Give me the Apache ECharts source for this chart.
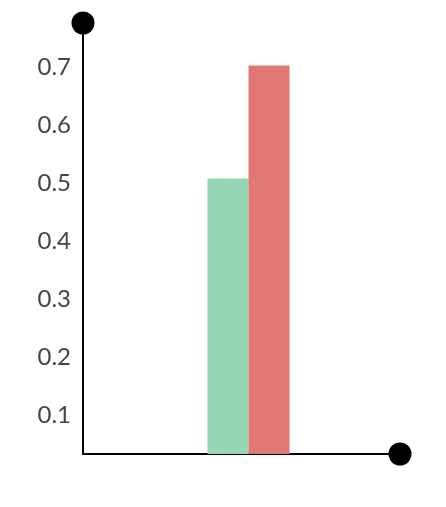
<!DOCTYPE html>
<html><head><meta charset="utf-8">
<script src="https://cdn.jsdelivr.net/npm/echarts@6/dist/echarts.min.js"></script>
<style>html,body{margin:0;padding:0;background:#fff}#c{width:446px;height:507px}</style>
</head><body><div id="c"></div>
<script>
var categories = [''];
var seriesNames = ['A', 'B'];
var valuesA = [0.508];
var valuesB = [0.703];
var yMin = 0.0337, yMax = 0.776;

var chart = echarts.init(document.getElementById('c'), null, {renderer: 'canvas'});
var lineStyle = {color: '#000', width: 2};
chart.setOption({
  animation: false,
  grid: [
    {left: 83, right: 46, top: 23, bottom: 53},
    {left: 97, right: 46, top: 23, bottom: 53}
  ],
  xAxis: [
    {gridIndex: 0, type: 'category', data: categories,
     axisLine: {show: true, lineStyle: lineStyle, symbol: ['none', 'circle'], symbolSize: [23, 23]},
     axisTick: {show: false}, axisLabel: {show: false}, splitLine: {show: false}},
    {gridIndex: 1, type: 'category', data: categories, show: false}
  ],
  yAxis: [
    {gridIndex: 0, type: 'value', min: yMin, max: yMax, minInterval: 0.1, maxInterval: 0.1,
     axisLine: {show: true, lineStyle: lineStyle, symbol: ['none', 'circle'], symbolSize: [23, 23]},
     axisTick: {show: false}, splitLine: {show: false},
     axisLabel: {showMinLabel: false, showMaxLabel: false, color: '#444', fontSize: 24,
       fontFamily: 'Lato', margin: 12,
       formatter: function (v) { return (Math.round(v * 10) / 10).toFixed(1); }}},
    {gridIndex: 1, type: 'value', min: yMin, max: yMax, show: false}
  ],
  series: [
    {name: seriesNames[0], type: 'bar', xAxisIndex: 1, yAxisIndex: 1, data: valuesA,
     barWidth: 41, barGap: '0%', itemStyle: {color: '#96d5b3'}},
    {name: seriesNames[1], type: 'bar', xAxisIndex: 1, yAxisIndex: 1, data: valuesB,
     barWidth: 41, barGap: '0%', itemStyle: {color: '#e27873'}}
  ]
});
</script></body></html>
